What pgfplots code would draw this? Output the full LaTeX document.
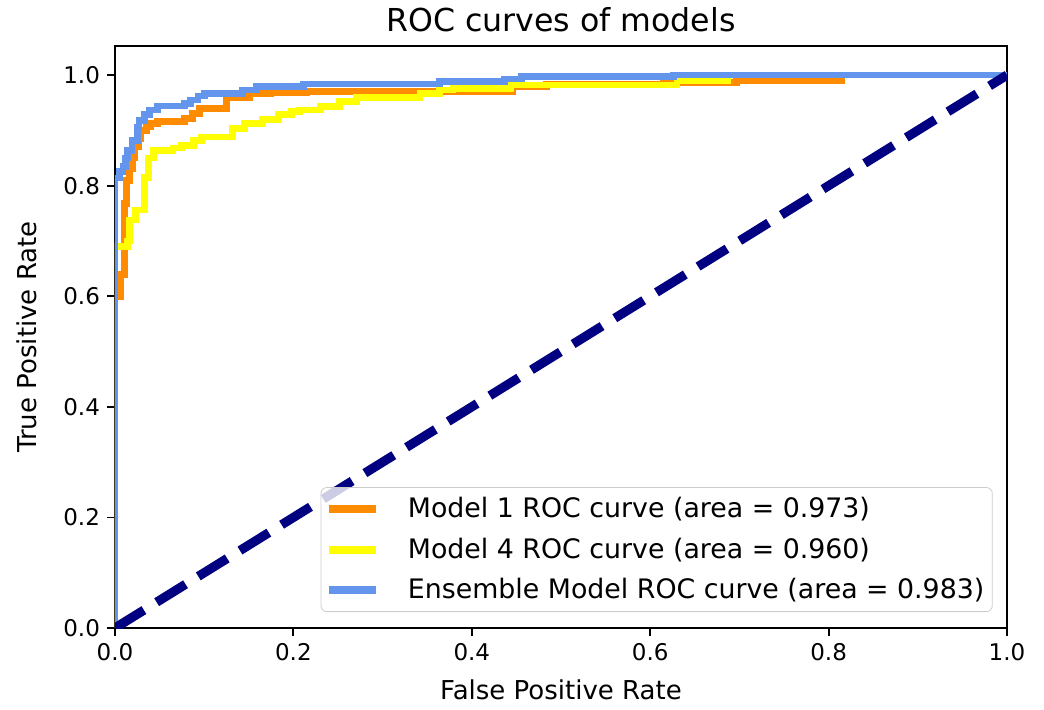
\documentclass[border=0pt]{standalone}
\usepackage{fontspec}
\setmainfont{DejaVu Sans}
\usepackage{pgfplots}
\pgfplotsset{compat=1.18}

\definecolor{roc1}{RGB}{255,140,0}
\definecolor{roc4}{RGB}{255,255,0}
\definecolor{rocens}{RGB}{100,149,237}
\definecolor{chance}{RGB}{0,0,128}

\begin{document}
\begin{tikzpicture}
% page = 1044 x 709 px at 0.5pt per px, axis box south west at (0,0)
\useasboundingbox (-57.5pt,-40.5pt) rectangle (464.5pt,314pt);
\begin{axis}[
  at={(0pt,0pt)}, anchor=south west,
  scale only axis,
  width=446pt, height=291pt,
  xmin=0, xmax=1, ymin=0, ymax=1.0526,
  xtick={0,0.2,0.4,0.6,0.8,1.0},
  ytick={0,0.2,0.4,0.6,0.8,1.0},
  xticklabels={0.0,0.2,0.4,0.6,0.8,1.0},
  yticklabels={0.0,0.2,0.4,0.6,0.8,1.0},
  xtick pos=bottom, ytick pos=left,
  tick align=outside,
  major tick length=4pt,
  tick style={black, line width=0.9pt},
  axis line style={line width=0.9pt},
  ticklabel style={font=\fontsize{11.5}{13}\selectfont},
  xlabel={False Positive Rate},
  ylabel={True Positive Rate},
  xlabel style={font=\fontsize{13}{15}\selectfont, at={(axis description cs:0.5,-0.1065)}, anchor=center},
  ylabel style={font=\fontsize{13}{15}\selectfont, at={(axis description cs:-0.0987,0.5)}, anchor=center},
  legend cell align=left,
  legend style={at={(axis description cs:0.984,0.0275)}, anchor=south east,
    draw=black!20, rounded corners=3pt, fill=white, fill opacity=0.8, text opacity=1,
    font=\fontsize{13.4}{15}\selectfont, row sep=4.5pt, column sep=12pt,
    inner xsep=2pt, inner ysep=3pt},
  legend image code/.code={\draw[#1, line width=4pt] (0pt,0pt) -- (23.5pt,0pt);},
]

% Model 1
\addplot[const plot, roc1, line width=3.4pt] coordinates {
  (0,0) (0,0.600) (0.006,0.640) (0.011,0.768) (0.013,0.810) (0.016,0.830)
  (0.020,0.850) (0.022,0.870) (0.027,0.885) (0.029,0.900) (0.035,0.906)
  (0.040,0.913) (0.048,0.916) (0.078,0.922) (0.087,0.931) (0.095,0.940)
  (0.125,0.960) (0.151,0.966) (0.174,0.969) (0.215,0.971) (0.446,0.979)
  (0.484,0.983) (0.615,0.986) (0.697,0.990) (0.815,1.0) (1,1)
};
\addlegendentry{Model 1 ROC curve (area = 0.973)}

% Model 4
\addplot[const plot, roc4, line width=3.4pt] coordinates {
  (0,0) (0,0.690) (0.014,0.700) (0.016,0.738) (0.023,0.756) (0.033,0.815)
  (0.038,0.850) (0.043,0.864) (0.065,0.868) (0.075,0.873) (0.088,0.882)
  (0.097,0.888) (0.132,0.904) (0.145,0.913) (0.165,0.919) (0.183,0.928)
  (0.198,0.934) (0.207,0.937) (0.230,0.943) (0.252,0.952) (0.271,0.959)
  (0.342,0.967) (0.364,0.973) (0.379,0.976) (0.443,0.982) (0.630,0.990)
  (0.687,1.0) (1,1)
};
\addlegendentry{Model 4 ROC curve (area = 0.960)}

% Ensemble
\addplot[const plot, rocens, line width=3.4pt] coordinates {
  (0,0) (0,0.814) (0.005,0.825) (0.009,0.834) (0.012,0.850) (0.014,0.864)
  (0.019,0.882) (0.025,0.906) (0.027,0.918) (0.033,0.928) (0.039,0.937)
  (0.048,0.944) (0.078,0.949) (0.085,0.955) (0.093,0.962) (0.100,0.966)
  (0.143,0.973) (0.159,0.980) (0.211,0.984) (0.364,0.988) (0.437,0.993)
  (0.456,0.997) (0.626,1.0) (1,1)
};
\addlegendentry{Ensemble Model ROC curve (area = 0.983)}

% chance line
\addplot[forget plot, chance, line width=4.6pt, dash pattern=on 17pt off 7.5pt] coordinates {(0,0) (1,1)};
\end{axis}
% title, placed by hand above the axis box
\node[font=\fontsize{15.8}{18}\selectfont, anchor=center, inner sep=0pt] at (223pt,304pt) {ROC curves of models};
\end{tikzpicture}
\end{document}
